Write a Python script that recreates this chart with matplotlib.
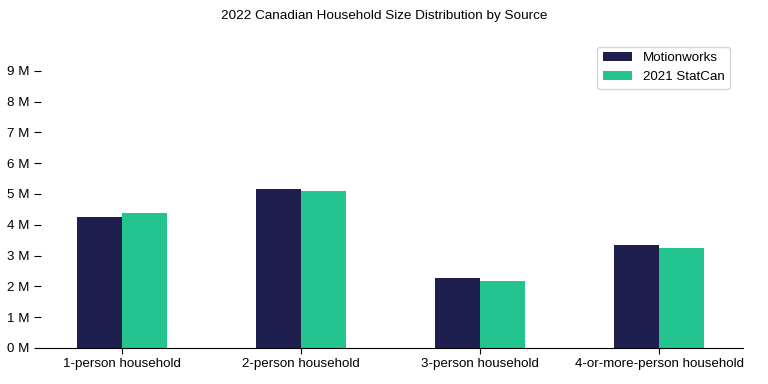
import matplotlib

matplotlib.use("Agg")
import numpy as np
from matplotlib import pyplot as plt
from matplotlib.ticker import FuncFormatter

plt.rcParams["font.family"] = ["Liberation Sans", "DejaVu Sans"]

CATEGORIES = ["1-person household", "2-person household", "3-person household",
              "4-or-more-person household"]
MOTIONWORKS = [4.26e6, 5.17e6, 2.27e6, 3.35e6]
STATCAN = [4.39e6, 5.10e6, 2.18e6, 3.25e6]
SERIES = ["Motionworks", "2021 StatCan"]
COLORS = ["#1f1f4f", "#23c490"]

fig = plt.figure(figsize=(7.68, 3.84), dpi=100)
ax = fig.add_axes([0.054, 0.094, 0.914, 0.802])

x = np.arange(len(CATEGORIES))
w = 0.25
ax.bar(x - w / 2, MOTIONWORKS, w, color=COLORS[0], label=SERIES[0])
ax.bar(x + w / 2, STATCAN, w, color=COLORS[1], label=SERIES[1])

ax.set_xticks(x)
ax.set_xticklabels(CATEGORIES, fontsize=9.6)
ax.set_xlim(-0.45, 3.47)
ax.set_ylim(0, 10e6)
ax.set_yticks(np.arange(0, 10) * 1e6)
ax.yaxis.set_major_formatter(FuncFormatter(lambda v, _: f"{v / 1e6:.0f} M"))
ax.tick_params(axis="y", labelsize=9.6, length=5, color="black")
ax.tick_params(axis="x", length=4)
for s in ("top", "right", "left"):
    ax.spines[s].set_visible(False)

ax.legend(loc="upper right", fontsize=9.6, frameon=True, edgecolor="#cccccc",
          fancybox=True, handlelength=2.2, bbox_to_anchor=(0.99, 1.0))
fig.suptitle("2022 Canadian Household Size Distribution by Source", fontsize=9.7, y=0.975)

fig.savefig("out.png", dpi=100)
